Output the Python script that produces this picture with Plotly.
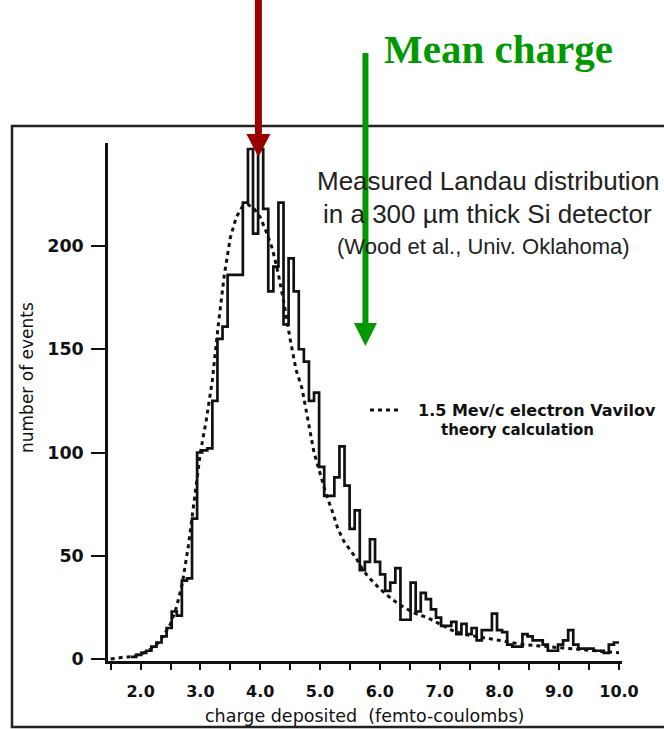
import numpy as np
import plotly.graph_objects as go

# ---------------- data ----------------
BIN_START = 1.84          # left edge of first non-empty bin (fC)
BIN_WIDTH = 0.085         # fC
COUNTS = [1, 2, 3, 4, 6, 8, 11, 15,
          23, 21, 38, 39, 68, 100, 101, 102,
          125, 155, 161, 186, 186, 186, 221, 247,
          206, 247, 218, 178, 190, 221, 162, 194,
          178, 150, 144, 125, 129, 93, 79, 79,
          88, 103, 84, 63, 72, 43, 47, 58,
          47, 41, 33, 37, 44, 19, 19, 37,
          23, 32, 29, 24, 20, 16, 16, 18,
          12, 17, 12, 15, 9, 14, 14, 22,
          14, 13, 7, 6, 6, 12, 11, 9,
          9, 7, 4, 4, 7, 9, 14, 7,
          5, 5, 5, 4, 4, 3, 7, 8]

THEORY_X = [1.5, 1.6, 1.7, 1.8, 1.9, 2.0, 2.1, 2.2, 2.3, 2.4, 2.5, 2.6, 2.7, 2.8, 2.9,
            3.0, 3.1, 3.2, 3.3, 3.4, 3.5, 3.6, 3.7, 3.8, 3.9, 4.0, 4.1, 4.2, 4.3, 4.4,
            4.5, 4.6, 4.7, 4.8, 4.9, 5.0, 5.1, 5.2, 5.3, 5.4, 5.5, 5.6, 5.7, 5.8, 5.9,
            6.0, 6.2, 6.4, 6.6, 6.8, 7.0, 7.2, 7.4, 7.6, 7.8, 8.0, 8.4, 8.8, 9.2, 9.6, 10.0]
THEORY_Y = [0, 0.5, 0.8, 1, 1.5, 2.5, 3.5, 5.5, 8, 12, 17, 25, 37, 55, 78,
            100, 116, 135, 162, 186, 204, 214, 219, 220, 218, 214, 207, 199, 187, 172,
            155, 140, 131, 115, 100, 90, 80, 72, 63, 57, 53, 49, 44, 40, 37,
            34, 29, 25, 22, 20, 17, 14, 12, 11, 10, 9, 7, 6, 5, 4, 3]

Y_TICKS = [0, 50, 100, 150, 200]
MOST_PROBABLE = 3.97   # red arrow (fC)
MEAN_CHARGE = 5.76     # green arrow (fC)

# ---------------- layout helpers ----------------
W, H = 664, 729
ML, MR, MT, MB = 108, 42, 143, 68
PW, PH = W - ML - MR, H - MT - MB
X_RANGE = [1.4549, 10.05]
Y_RANGE = [-0.97, 249.9]


def px(xp):
    return (xp - ML) / PW


def py(yp):
    return (H - MB - yp) / PH


def xdata_to_px(v):
    return ML + (v - X_RANGE[0]) / (X_RANGE[1] - X_RANGE[0]) * PW


edges = BIN_START + BIN_WIDTH * np.arange(len(COUNTS) + 1)
hist_y = COUNTS + [COUNTS[-1]]

fig = go.Figure()
fig.add_trace(go.Scatter(x=THEORY_X, y=THEORY_Y, mode="lines",
                         line=dict(color="#111111", width=3, dash="4px,4px"),
                         hoverinfo="skip"))
fig.add_trace(go.Scatter(x=edges, y=hist_y, mode="lines",
                         line=dict(color="#111111", width=2.7, shape="hv"),
                         hoverinfo="skip"))

shapes = []
# outer frame (open on the right, runs off the page)
shapes.append(dict(type="rect", xref="paper", yref="paper",
                   x0=px(12), x1=px(675), y0=py(727), y1=py(126),
                   line=dict(color="#222222", width=2.5), layer="below"))


def arrow(xp, y_top, y_tip, color, shaft_w, head_w, head_h):
    s = [dict(type="line", xref="paper", yref="paper",
              x0=px(xp), x1=px(xp), y0=py(y_top), y1=py(y_tip - head_h + 1),
              line=dict(color=color, width=shaft_w)),
         dict(type="path", xref="paper", yref="paper",
              path=(f"M {px(xp - head_w / 2)},{py(y_tip - head_h)} "
                    f"L {px(xp + head_w / 2)},{py(y_tip - head_h)} "
                    f"L {px(xp)},{py(y_tip)} Z"),
              fillcolor=color, line=dict(color=color, width=0))]
    return s


shapes += arrow(xdata_to_px(MOST_PROBABLE), 0, 157, "#990000", 7, 24, 23)
shapes += arrow(xdata_to_px(MEAN_CHARGE), 53, 346, "#009900", 6, 23, 23)

# legend dashes
shapes.append(dict(type="line", xref="paper", yref="paper",
                   x0=px(370), x1=px(400), y0=py(410), y1=py(410),
                   line=dict(color="#111111", width=3, dash="4px,4px")))

sans = "Liberation Sans, Arial, sans-serif"
dv = "DejaVu Sans, sans-serif"
annotations = [
    dict(text="Mean charge", x=px(498), y=py(49), xanchor="center", yanchor="middle",
         font=dict(family="Liberation Serif, Times New Roman, serif", size=41,
                   color="#009900", weight="bold")),
    dict(text="Measured Landau distribution", x=px(488), y=py(181),
         xanchor="center", yanchor="middle", font=dict(family=sans, size=26, color="#222222")),
    dict(text="in a 300 µm thick Si detector", x=px(487), y=py(214),
         xanchor="center", yanchor="middle", font=dict(family=sans, size=26, color="#222222")),
    dict(text="(Wood et al., Univ. Oklahoma)", x=px(483), y=py(246),
         xanchor="center", yanchor="middle", font=dict(family=sans, size=22, color="#222222")),
    dict(text="1.5 Mev/c electron Vavilov", x=px(416), y=py(410),
         xanchor="left", yanchor="middle", font=dict(family=dv, size=16, color="#111111", weight="bold")),
    dict(text="theory calculation", x=px(517), y=py(430),
         xanchor="center", yanchor="middle", font=dict(family=dv, size=15, color="#111111", weight="bold")),
    dict(text="charge deposited  (femto-coulombs)", x=px(364), y=py(716),
         xanchor="center", yanchor="middle", font=dict(family=dv, size=17.5, color="#111111")),
    dict(text="number of events", x=px(27), y=py(378), textangle=-90,
         xanchor="center", yanchor="middle", font=dict(family=dv, size=17, color="#111111")),
]
for a in annotations:
    a.update(xref="paper", yref="paper", showarrow=False)

fig.update_layout(
    width=W, height=H, autosize=False,
    margin=dict(l=ML, r=MR, t=MT, b=MB, pad=0),
    paper_bgcolor="white", plot_bgcolor="white",
    showlegend=False,
    shapes=shapes, annotations=annotations,
    xaxis=dict(range=X_RANGE, showline=True, linecolor="#111111", linewidth=2.5,
               ticks="outside", ticklen=6, tickwidth=2, tickcolor="#111111",
               tick0=0, dtick=1, tickformat=".1f",
               minor=dict(dtick=0.5, tick0=0, ticks="outside", ticklen=6,
                          tickwidth=2, tickcolor="#111111", showgrid=False),
               showgrid=False, zeroline=False, ticklabelstandoff=8,
               tickfont=dict(family=dv, size=16, color="#111111", weight="bold")),
    yaxis=dict(range=Y_RANGE, showline=True, linecolor="#111111", linewidth=2.5,
               ticks="outside", ticklen=14, tickwidth=2, tickcolor="#111111",
               tickvals=Y_TICKS, showgrid=False, zeroline=False, ticklabelstandoff=4,
               tickfont=dict(family=dv, size=17.5, color="#111111", weight="bold")),
)

fig.write_html("out.html")
